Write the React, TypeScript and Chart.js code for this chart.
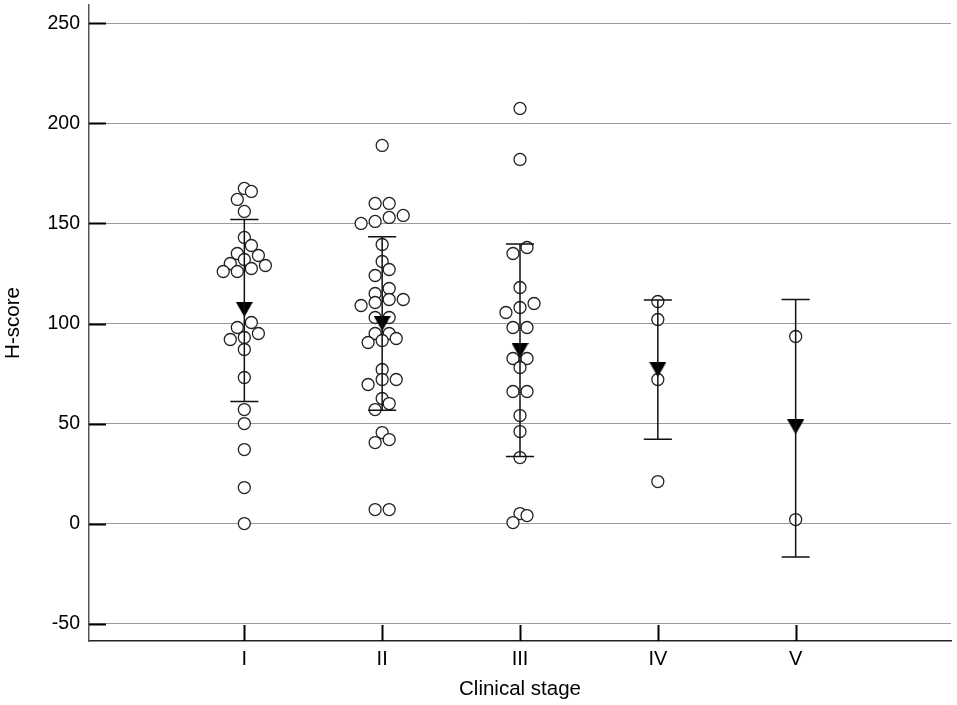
import React, { useEffect, useRef } from 'react';
import { Chart, registerables } from 'chart.js';

Chart.register(...registerables);

// Eixos
const stages = ['I', 'II', 'III', 'IV', 'V'];
const yTicks = [-50, 0, 50, 100, 150, 200, 250];

// H-score de cada caso por estádio clínico + faixa (lane) do dot plot
const stageIScores = [167.5, 166, 162, 156, 143, 139, 135, 134, 132, 130, 129, 127.5, 126, 126, 100.5, 98, 95, 93, 92, 87, 73, 57, 50, 37, 18, 0];
const stageILanes = [0, 1, -1, 0, 0, 1, -1, 2, 0, -2, 3, 1, -1, -3, 1, -1, 2, 0, -2, 0, 0, 0, 0, 0, 0, 0];

const stageIIScores = [189, 160, 160, 154, 153, 151, 150, 139.5, 131, 127, 124, 117.5, 115, 112, 112, 110.5, 109, 103, 103, 95, 95, 92.5, 91.5, 90.5, 77, 72, 72, 69.5, 62.5, 60, 57, 45.5, 42, 40.5, 7, 7];
const stageIILanes = [0, -1, 1, 3, 1, -1, -3, 0, 0, 1, -1, 1, -1, 1, 3, -1, -3, -1, 1, -1, 1, 2, 0, -2, 0, 0, 2, -2, 0, 1, -1, 0, 1, -1, -1, 1];

const stageIIIScores = [207.5, 182, 138, 135, 118, 110, 108, 105.5, 98, 98, 82.5, 82.5, 78, 66, 66, 54, 46, 33, 5, 4, 0.5];
const stageIIILanes = [0, 0, 1, -1, 0, 2, 0, -2, -1, 1, -1, 1, 0, -1, 1, 0, 0, 0, 0, 1, -1];

const stageIVScores = [111, 102, 72, 21];
const stageIVLanes = [0, 0, 0, 0];

const stageVScores = [93.5, 2];
const stageVLanes = [0, 0];

// Média e média ± DP
const stageMeans = [107, 100, 86.5, 77, 48.3];
const stageSdLow = [61, 56.7, 33.5, 42.2, -16.7];
const stageSdHigh = [152, 143.3, 139.7, 111.7, 112];

const LANE = 0.051; // largura de uma faixa, em unidades de categoria
const CAP = 0.102; // meia largura da barra de erro

const scoresByStage = [stageIScores, stageIIScores, stageIIIScores, stageIVScores, stageVScores];
const lanesByStage = [stageILanes, stageIILanes, stageIIILanes, stageIVLanes, stageVLanes];

const FONT = "'Liberation Sans', Arial, sans-serif";

const axisPlugin = {
  id: 'axisMarks',
  beforeDatasetsDraw(chart: any) {
    const { ctx, chartArea, scales } = chart;
    const x = scales.x;
    const y = scales.y;
    ctx.save();
    ctx.strokeStyle = '#000';
    ctx.lineWidth = 2;
    yTicks.forEach((v) => {
      const py = Math.round(y.getPixelForValue(v)) + 0.5;
      ctx.beginPath();
      ctx.moveTo(chartArea.left, py);
      ctx.lineTo(chartArea.left + 17, py);
      ctx.stroke();
    });
    stages.forEach((_, i) => {
      const px = Math.round(x.getPixelForValue(i + 1)) + 0.5;
      ctx.beginPath();
      ctx.moveTo(px, chartArea.bottom);
      ctx.lineTo(px, chartArea.bottom - 16);
      ctx.stroke();
    });
    ctx.restore();
  },
  afterDatasetsDraw(chart: any) {
    const { ctx, scales } = chart;
    const x = scales.x;
    const y = scales.y;
    ctx.save();
    ctx.strokeStyle = '#111';
    ctx.lineWidth = 1.5;
    stages.forEach((_, i) => {
      const cx = x.getPixelForValue(i + 1);
      const x0 = x.getPixelForValue(i + 1 - CAP);
      const x1 = x.getPixelForValue(i + 1 + CAP);
      const yLow = y.getPixelForValue(stageSdLow[i]);
      const yHigh = y.getPixelForValue(stageSdHigh[i]);
      ctx.beginPath();
      ctx.moveTo(cx, yLow);
      ctx.lineTo(cx, yHigh);
      ctx.moveTo(x0, yLow);
      ctx.lineTo(x1, yLow);
      ctx.moveTo(x0, yHigh);
      ctx.lineTo(x1, yHigh);
      ctx.stroke();
    });
    ctx.restore();
  },
};

const App: React.FC = () => {
  const chartRef = useRef<HTMLCanvasElement | null>(null);
  const chartInstanceRef = useRef<Chart | null>(null);

  useEffect(() => {
    if (!chartRef.current) return;

    // triângulo para baixo usado como marcador da média
    const tri = document.createElement('canvas');
    tri.width = 17;
    tri.height = 15;
    const tctx = tri.getContext('2d');
    if (tctx) {
      tctx.fillStyle = '#000';
      tctx.beginPath();
      tctx.moveTo(0, 0);
      tctx.lineTo(17, 0);
      tctx.lineTo(8.5, 15);
      tctx.closePath();
      tctx.fill();
    }

    const points: { x: number; y: number }[] = [];
    scoresByStage.forEach((scores, i) => {
      scores.forEach((v, j) => {
        points.push({ x: i + 1 + lanesByStage[i][j] * LANE, y: v });
      });
    });

    const means = stageMeans.map((m, i) => ({ x: i + 1, y: m }));

    chartInstanceRef.current = new Chart(chartRef.current, {
      type: 'scatter',
      data: {
        datasets: [
          {
            label: 'Mean',
            data: means,
            pointStyle: tri as any,
            pointRadius: 8,
            order: 0,
          },
          {
            label: 'H-score',
            data: points,
            pointRadius: 6,
            pointBorderWidth: 1.3,
            pointBorderColor: '#222',
            pointBackgroundColor: '#fff',
            order: 1,
          },
        ],
      },
      options: {
        animation: false,
        responsive: true,
        maintainAspectRatio: false,
        events: [],
        layout: { autoPadding: false, padding: { top: 5, right: 6, left: 0, bottom: 0 } },
        plugins: {
          legend: { display: false },
          tooltip: { enabled: false },
        },
        scales: {
          x: {
            type: 'linear',
            min: -0.127,
            max: 6.127,
            afterBuildTicks: (scale: any) => {
              scale.ticks = stages.map((_, i) => ({ value: i + 1 }));
            },
            afterFit: (scale: any) => {
              scale.height = 64;
              scale.paddingLeft = 0;
              scale.paddingRight = 0;
            },
            grid: { display: false },
            border: { display: true, color: '#222', width: 1.5 },
            ticks: {
              autoSkip: false,
              maxRotation: 0,
              padding: -2,
              color: '#000',
              font: { family: FONT, size: 20 },
              callback: (_v: any, index: number) => stages[index],
            },
            title: {
              display: true,
              text: 'Clinical stage',
              color: '#000',
              font: { family: FONT, size: 20.5 },
              padding: { top: 0, bottom: 3 },
            },
          },
          y: {
            min: -58.7,
            max: 259.2,
            afterBuildTicks: (scale: any) => {
              scale.ticks = yTicks.map((v) => ({ value: v }));
            },
            afterFit: (scale: any) => {
              scale.width = 89;
              scale.paddingTop = 0;
              scale.paddingBottom = 0;
            },
            grid: { color: '#9a9a9a', lineWidth: 1, drawTicks: false },
            border: { display: true, color: '#555', width: 1.5 },
            ticks: {
              padding: 9,
              color: '#000',
              font: { family: FONT, size: 19.5 },
            },
            title: {
              display: true,
              text: 'H-score',
              color: '#000',
              font: { family: FONT, size: 20.5 },
              padding: { top: 1.5, bottom: 0 },
            },
          },
        },
      },
      plugins: [axisPlugin],
    });

    return () => {
      if (chartInstanceRef.current) {
        chartInstanceRef.current.destroy();
        chartInstanceRef.current = null;
      }
    };
  }, []);

  return (
    <div style={{ position: 'absolute', left: 0, top: 0, width: 957, height: 705, background: '#fff' }}>
      <canvas ref={chartRef} />
    </div>
  );
};

export default App;
